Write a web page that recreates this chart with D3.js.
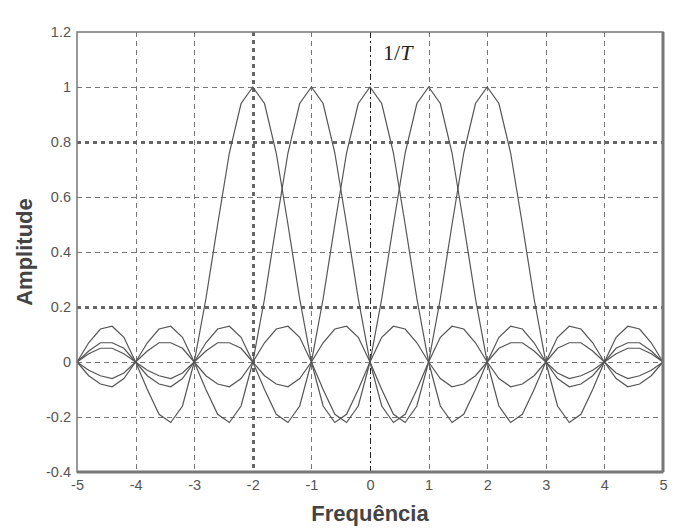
<!DOCTYPE html>
<html>
<head>
<style>
body { margin: 0; background: #fff; }
text { font-family: "Liberation Sans", Arial, sans-serif; }
.tick text { font-size: 14.5px; fill: #555; }
.grid line { stroke: #777; stroke-dasharray: 5,4; shape-rendering: crispEdges; }
.grid line.heavy { stroke: #666; stroke-width: 2.5; stroke-dasharray: 4,4; }
.grid line.dark { stroke: #222; stroke-width: 1.6; stroke-dasharray: 6,3,2,3; }
.curve { fill: none; stroke: #555; stroke-width: 1.2; }
text.title { font-size: 22px; font-weight: bold; fill: #444; }
text.period { font-family: "Liberation Serif", "DejaVu Serif", serif; font-size: 22px; fill: #222; }
</style>
</head>
<body>
<div id="chart"></div>
<script src="https://cdn.jsdelivr.net/npm/d3@7"></script>
<script>
var dimensions = { width: 691, height: 529 };
var margins = { top: 32, right: 28, bottom: 57, left: 77 };

var xTicks = [-5, -4, -3, -2, -1, 0, 1, 2, 3, 4, 5];
var yTicks = [-0.4, -0.2, 0, 0.2, 0.4, 0.6, 0.8, 1, 1.2];
var heavyX = [-2];
var darkX = [0];
var heavyY = [0.2, 0.8];

var freq = [-5, -4.8, -4.6, -4.4, -4.2, -4, -3.8, -3.6, -3.4, -3.2, -3, -2.8, -2.6, -2.4, -2.2,
    -2, -1.8, -1.6, -1.4, -1.2, -1, -0.8, -0.6, -0.4, -0.2, 0, 0.2, 0.4, 0.6, 0.8, 1, 1.2, 1.4,
    1.6, 1.8, 2, 2.2, 2.4, 2.6, 2.8, 3, 3.2, 3.4, 3.6, 3.8, 4, 4.2, 4.4, 4.6, 4.8, 5];

var ampM2 = [0,0.07,0.12,0.13,0.09,0,-0.10,-0.19,-0.22,-0.16,0,0.23,0.5,0.76,0.94,1,0.94,0.76,0.5,0.23,0,-0.16,-0.22,-0.19,-0.10,0,0.09,0.13,0.12,0.07,0,-0.06,-0.09,-0.08,-0.05,0,0.05,0.07,0.07,0.04,0,-0.04,-0.06,-0.05,-0.03,0,0.03,0.05,0.05,0.03,0];
var ampM1 = [0,-0.05,-0.08,-0.09,-0.06,0,0.07,0.12,0.13,0.09,0,-0.10,-0.19,-0.22,-0.16,0,0.23,0.5,0.76,0.94,1,0.94,0.76,0.5,0.23,0,-0.16,-0.22,-0.19,-0.10,0,0.09,0.13,0.12,0.07,0,-0.06,-0.09,-0.08,-0.05,0,0.05,0.07,0.07,0.04,0,-0.04,-0.06,-0.05,-0.03,0];
var amp0 = [0,0.04,0.07,0.07,0.05,0,-0.05,-0.08,-0.09,-0.06,0,0.07,0.12,0.13,0.09,0,-0.10,-0.19,-0.22,-0.16,0,0.23,0.5,0.76,0.94,1,0.94,0.76,0.5,0.23,0,-0.16,-0.22,-0.19,-0.10,0,0.09,0.13,0.12,0.07,0,-0.06,-0.09,-0.08,-0.05,0,0.05,0.07,0.07,0.04,0];
var ampP1 = [0,-0.03,-0.05,-0.06,-0.04,0,0.04,0.07,0.07,0.05,0,-0.05,-0.08,-0.09,-0.06,0,0.07,0.12,0.13,0.09,0,-0.10,-0.19,-0.22,-0.16,0,0.23,0.5,0.76,0.94,1,0.94,0.76,0.5,0.23,0,-0.16,-0.22,-0.19,-0.10,0,0.09,0.13,0.12,0.07,0,-0.06,-0.09,-0.08,-0.05,0];
var ampP2 = [0,0.03,0.05,0.05,0.03,0,-0.03,-0.05,-0.06,-0.04,0,0.04,0.07,0.07,0.05,0,-0.05,-0.08,-0.09,-0.06,0,0.07,0.12,0.13,0.09,0,-0.10,-0.19,-0.22,-0.16,0,0.23,0.5,0.76,0.94,1,0.94,0.76,0.5,0.23,0,-0.16,-0.22,-0.19,-0.10,0,0.09,0.13,0.12,0.07,0];
var series = [ampM2, ampM1, amp0, ampP1, ampP2];

var w = dimensions.width - margins.left - margins.right;
var h = dimensions.height - margins.top - margins.bottom;

var xscale = d3.scaleLinear().domain([-5, 5]).range([0, w]);
var yscale = d3.scaleLinear().domain([-0.4, 1.2]).range([h, 0]);

var svg = d3.select("#chart").append("svg")
    .attr("width", dimensions.width)
    .attr("height", dimensions.height);
var g = svg.append("g")
    .attr("transform", "translate(" + margins.left + "," + margins.top + ")");

// grid
var grid = g.append("g").attr("class", "grid");
grid.selectAll("line.v")
    .data(xTicks.slice(1, -1))
  .enter().append("line")
    .attr("class", function(d) { return heavyX.indexOf(d) >= 0 ? "heavy" : (darkX.indexOf(d) >= 0 ? "dark" : ""); })
    .attr("x1", function(d) { return Math.round(xscale(d)) + 0.5; })
    .attr("x2", function(d) { return Math.round(xscale(d)) + 0.5; })
    .attr("y1", 0)
    .attr("y2", h);
grid.selectAll("line.h")
    .data(yTicks.slice(1, -1))
  .enter().append("line")
    .attr("class", function(d) { return heavyY.indexOf(d) >= 0 ? "heavy" : ""; })
    .attr("y1", function(d) { return Math.round(yscale(d)) + 0.5; })
    .attr("y2", function(d) { return Math.round(yscale(d)) + 0.5; })
    .attr("x1", 0)
    .attr("x2", w);

// curves
var line = d3.line()
    .x(function(d, i) { return xscale(freq[i]); })
    .y(function(d) { return yscale(d); });
g.selectAll("path.curve")
    .data(series)
  .enter().append("path")
    .attr("class", "curve")
    .attr("d", line);

// frame
g.append("rect")
    .attr("x", 0).attr("y", 0).attr("width", w).attr("height", h)
    .attr("fill", "none").attr("stroke", "#777").attr("stroke-width", 1.5);
g.append("line").attr("x1", 0).attr("x2", w).attr("y1", h).attr("y2", h)
    .attr("stroke", "#777").attr("stroke-width", 3);
g.append("line").attr("x1", w).attr("x2", w).attr("y1", 0).attr("y2", h)
    .attr("stroke", "#777").attr("stroke-width", 3);

// axes
var xaxis = d3.axisBottom(xscale).tickValues(xTicks).tickSize(0).tickPadding(8)
    .tickFormat(function(d) { return String(d); });
g.append("g").attr("transform", "translate(0," + h + ")").call(xaxis)
    .call(function(a) { a.select(".domain").remove(); });
var yaxis = d3.axisLeft(yscale).tickValues(yTicks).tickSize(0).tickPadding(6)
    .tickFormat(function(d) { return String(d); });
g.append("g").call(yaxis)
    .call(function(a) { a.select(".domain").remove(); });

// labels
svg.append("text")
    .attr("class", "title")
    .attr("x", margins.left + xscale(0))
    .attr("y", 521)
    .attr("text-anchor", "middle")
    .text("Frequência");
svg.append("text")
    .attr("class", "title")
    .attr("transform", "translate(32," + (margins.top + yscale(0.4)) + ") rotate(-90)")
    .attr("text-anchor", "middle")
    .text("Amplitude");
var period = svg.append("text")
    .attr("class", "period")
    .attr("x", margins.left + xscale(0) + 13)
    .attr("y", 60);
period.append("tspan").text("1/");
period.append("tspan").attr("font-style", "italic").text("T");
</script>
</body>
</html>
